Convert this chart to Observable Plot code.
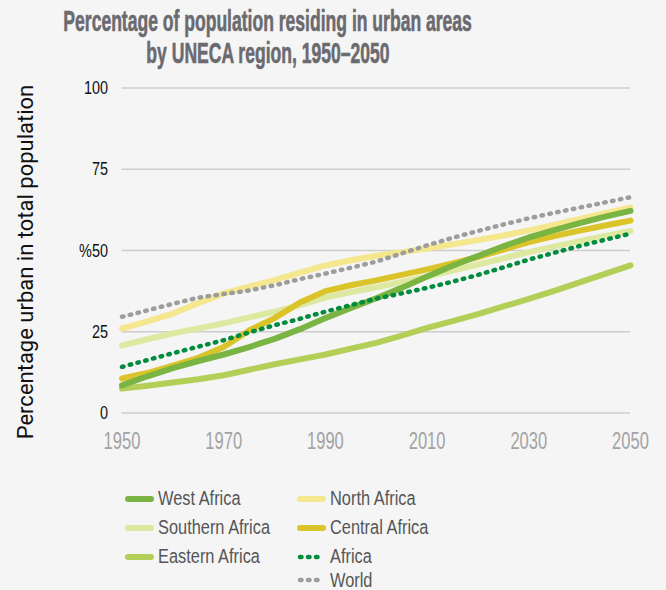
<!DOCTYPE html>
<html><head><meta charset="utf-8">
<script src="https://cdn.jsdelivr.net/npm/d3@7"></script>
<script src="https://cdn.jsdelivr.net/npm/@observablehq/plot@0.6"></script>
<style>
html,body{margin:0;padding:0;background:#f5f5f5;}
#wrap{position:relative;width:666px;height:590px;overflow:hidden;font-family:"Liberation Sans",Arial,sans-serif;}
#title{position:absolute;left:-232px;top:5px;width:1000px;text-align:center;color:#6a6a6f;font-weight:bold;font-size:29px;line-height:32px;-webkit-text-stroke:0.6px #6a6a6f;}
#title span{display:inline-block;transform:scaleX(0.605);transform-origin:center;white-space:nowrap;}
#ylab{position:absolute;left:-174.5px;top:250px;width:400px;height:24px;line-height:24px;text-align:center;transform:rotate(-90deg);font-family:Roboto,sans-serif;font-size:22px;color:#111;white-space:nowrap;}
#chart{position:absolute;left:0;top:0;}
.leg{position:absolute;height:20px;display:flex;align-items:center;font-size:19.5px;color:#555557;white-space:nowrap;}
.leg svg{margin-right:4px;flex:none;}
.leg span{display:inline-block;transform:scaleX(0.84);transform-origin:left center;}
</style></head>
<body><div id="wrap">
<div id="chart"></div>
<div id="title"><span>Percentage of population residing in urban areas</span><br><span>by UNECA region, 1950–2050</span></div>
<div id="ylab">Percentage urban in total population</div>
<div id="legend"></div>
</div>
<script>
const years = [1950,1955,1960,1965,1970,1975,1980,1985,1990,1995,2000,2005,2010,2015,2020,2025,2030,2035,2040,2045,2050];
const southernAfrica = [20.8,22.7,24.5,26.0,27.6,29.4,31.2,33.2,35.5,37.2,38.7,40.3,42.0,43.8,45.7,47.6,49.5,51.2,52.9,54.5,56.0];
const northAfrica = [26.0,28.2,30.6,33.8,36.8,38.9,40.9,43.2,45.4,47.0,48.4,49.5,50.6,51.9,53.2,54.6,56.2,57.9,59.7,61.5,63.2];
const easternAfrica = [7.5,8.4,9.4,10.4,11.6,13.3,15.0,16.5,18.0,19.8,21.6,23.8,26.2,28.3,30.4,32.8,35.1,37.6,40.2,42.8,45.4];
const centralAfrica = [10.6,12.3,14.6,17.0,20.3,25.4,29.2,34.0,37.5,39.3,40.8,42.5,44.2,46.0,48.0,50.3,52.6,54.4,56.1,57.7,59.2];
const westAfrica = [8.5,11.3,13.8,16.0,18.0,20.3,22.8,25.8,29.2,32.3,35.3,38.5,42.0,45.3,48.3,51.3,54.0,56.3,58.4,60.4,62.2];
const africa = [14.2,16.3,18.4,20.4,22.4,24.8,27.0,29.0,31.2,33.2,35.2,36.8,38.5,40.4,42.5,44.8,47.2,49.3,51.4,53.3,55.2];
const world = [29.6,31.6,33.6,35.5,36.6,37.7,39.3,41.2,42.9,44.7,46.6,49.1,51.6,53.9,56.0,58.0,59.9,61.6,63.2,64.8,66.4];

const yTicks = [0,25,50,75,100];
const yTickLabels = ["0","25","%50","75","100"];
const xTicks = [1950,1970,1990,2010,2030,2050];

const seriesNames = ["West Africa","Southern Africa","Eastern Africa","North Africa","Central Africa","Africa","World"];
const seriesColors = ["#7ab443","#dde9a0","#b3cf58","#f5e78e","#dbc42a","#008c3c","#9d9d9d"];
const dottedSeries = ["Africa","World"];

const solidOrder = [["Southern Africa",southernAfrica],["North Africa",northAfrica],["Eastern Africa",easternAfrica],["Central Africa",centralAfrica],["West Africa",westAfrica]];
const dottedOrder = [["Africa",africa],["World",world]];
const toRows = list => list.flatMap(([name,vals]) => vals.map((v,i)=>({series:name,year:years[i],value:v})));
const solidRows = toRows(solidOrder);
const dottedRows = toRows(dottedOrder);

const chart = Plot.plot({
  width:666, height:470,
  marginTop:87.5, marginBottom:57.5, marginLeft:121.5, marginRight:36,
  style:{background:"transparent", fontFamily:'"Liberation Sans",Arial,sans-serif', overflow:"visible"},
  x:{domain:[1950,2050]},
  y:{domain:[0,100]},
  color:{domain:seriesNames, range:seriesColors},
  marks:[
    Plot.gridY(yTicks,{stroke:"#cdcdcd",strokeOpacity:1,strokeWidth:1.5}),
    Plot.axisY(yTicks,{tickSize:0,tickPadding:14,fontSize:19,fill:"#111",label:null,tickFormat:d=>yTickLabels[yTicks.indexOf(d)]}),
    Plot.axisX(xTicks,{tickSize:0,tickPadding:19.5,fontSize:23,fill:"#a3a3a3",label:null,tickFormat:d=>String(d)}),
    Plot.line(solidRows,{x:"year",y:"value",z:"series",stroke:"series",strokeWidth:6,strokeLinecap:"round",strokeLinejoin:"round"}),
    Plot.line(dottedRows,{x:"year",y:"value",z:"series",stroke:"series",strokeWidth:4.5,strokeLinecap:"round",strokeDasharray:"1.5,6.5"})
  ]
});
document.getElementById("chart").appendChild(chart);

// condense the axis label glyphs horizontally around their anchor
function condense(sel, s){
  d3.select(chart).selectAll(sel).each(function(){
    const t = this.getAttribute("transform") || "";
    const x = this.getAttribute("x");
    const xv = x == null ? 0 : parseFloat(x) || 0;
    this.setAttribute("transform", `${t} translate(${xv},0) scale(${s},1) translate(${-xv},0)`);
  });
}
condense('[aria-label="x-axis tick label"] text', 0.72);
condense('[aria-label="y-axis tick label"] text', 0.76);

// legend
const legendItems = [
  {name:"West Africa",x:123,y:498.7},
  {name:"Southern Africa",x:123,y:527.5},
  {name:"Eastern Africa",x:123,y:556.5},
  {name:"North Africa",x:295,y:498.7},
  {name:"Central Africa",x:295,y:527.5},
  {name:"Africa",x:295,y:556.5},
  {name:"World",x:295,y:580}
];
const leg = document.getElementById("legend");
legendItems.forEach(it=>{
  const color = seriesColors[seriesNames.indexOf(it.name)];
  const dotted = dottedSeries.includes(it.name);
  const d = document.createElement("div");
  d.className="leg";
  d.style.left = it.x+"px";
  d.style.top = (it.y-10)+"px";
  const w = 31;
  d.innerHTML = `<svg width="${w}" height="10"><line x1="5" x2="${w-3}" y1="5" y2="5" stroke="${color}" stroke-width="${dotted?4.5:6}" stroke-linecap="round" ${dotted?'stroke-dasharray="1.5,6.5"':''}/></svg><span></span>`;
  d.querySelector("span").textContent = it.name;
  leg.appendChild(d);
});
</script>
</body></html>
